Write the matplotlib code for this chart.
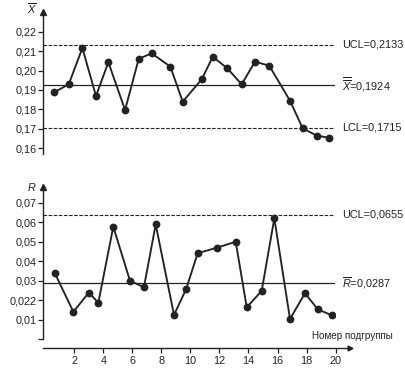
import matplotlib
matplotlib.use("Agg")
import matplotlib.pyplot as plt
import matplotlib.transforms as mtransforms

plt.rcParams['font.family'] = ['Liberation Sans', 'DejaVu Sans']
plt.rcParams['mathtext.fontset'] = 'custom'
plt.rcParams['mathtext.rm'] = 'Liberation Sans'
plt.rcParams['mathtext.it'] = 'Liberation Sans:italic'

# ---- data ----
subgroups_ticks = [2, 4, 6, 8, 10, 12, 14, 16, 18, 20]

xbar_pos = [0.61, 1.62, 2.56, 3.50, 4.35, 5.50, 6.44, 7.33, 8.62, 9.47,
            10.78, 11.54, 12.54, 13.53, 14.45, 15.43, 16.86, 17.73, 18.70, 19.57]
xbar_vals = [0.1888, 0.1929, 0.2116, 0.1869, 0.2043, 0.1797, 0.2060, 0.2089, 0.2020, 0.1840,
             0.1955, 0.2071, 0.2012, 0.1929, 0.2046, 0.2025, 0.1845, 0.1703, 0.1665, 0.1654]

r_pos = [0.65, 1.94, 3.00, 3.66, 4.69, 5.84, 6.80, 7.61, 8.87, 9.70,
         10.50, 11.85, 13.12, 13.88, 14.91, 15.78, 16.86, 17.89, 18.77, 19.73]
r_vals = [0.0341, 0.0141, 0.0239, 0.0188, 0.0577, 0.0300, 0.0267, 0.0589, 0.0125, 0.0256,
          0.0441, 0.0470, 0.0500, 0.0164, 0.0248, 0.0620, 0.0104, 0.0236, 0.0154, 0.0123]

x_ucl, x_center, x_lcl = 0.2133, 0.1926, 0.1705
r_ucl, r_center = 0.0638, 0.0287

x_labels = ['UCL=0,2133', r'$\overline{\overline{X}}$=0,1924', 'LCL=0,1715']
r_labels = ['UCL=0,0655', r'$\overline{R}$=0,0287']

x_yticks = [0.16, 0.17, 0.18, 0.19, 0.20, 0.21, 0.22]
x_yticklabels = ['0,16', '0,17', '0,18', '0,19', '0,20', '0,21', '0,22']
r_yticks = [0.0, 0.01, 0.02, 0.03, 0.04, 0.05, 0.06, 0.07]
r_yticklabels = ['', '0,01', '0,022', '0,03', '0,04', '0,05', '0,06', '0,07']

# ---- layout ----
W, H = 406, 375
fig = plt.figure(figsize=(W / 100, H / 100), dpi=100)
INK = '#222222'
FS = 7.8

def px_axes(left, top, right, bottom):
    return fig.add_axes([left / W, 1 - bottom / H, (right - left) / W, (bottom - top) / H])

k0, kscale = 45.2, 14.52
def k_of(px):
    return (px - k0) / kscale

ax1 = px_axes(43.3, 12, 335, 154)
ax2 = px_axes(43.3, 187, 335, 339.3)
ax3 = px_axes(43.3, 347.8, 350, 348.3)

for ax in (ax1, ax2):
    ax.set_xlim(k_of(43.3), k_of(335))
    for s in ('top', 'right', 'bottom'):
        ax.spines[s].set_visible(False)
    ax.spines['left'].set_linewidth(1.0)
    ax.spines['left'].set_color(INK)
    ax.set_xticks([])
    ax.tick_params(axis='y', direction='out', length=3.5, width=0.9, pad=1,
                   labelsize=FS, colors=INK)
    ax.patch.set_visible(False)
    ax.plot([0], [1], marker='^', ms=4, color=INK, transform=ax.transAxes,
            clip_on=False)

ax1.set_ylim(0.15706, 0.23014)
ax1.set_yticks(x_yticks)
ax1.set_yticklabels(x_yticklabels)
ax2.set_ylim(0.0, 0.07806)
ax2.set_yticks(r_yticks)
ax2.set_yticklabels(r_yticklabels)

line_kw = dict(color=INK, lw=1.35, marker='o', ms=4.6, mfc=INK, mec=INK, zorder=3)
ax1.plot(xbar_pos, xbar_vals, **line_kw)
ax2.plot(r_pos, r_vals, **line_kw)

dash = (0, (3.2, 1.4))
ax1.axhline(x_ucl, color=INK, lw=0.8, ls=dash)
ax1.axhline(x_center, color=INK, lw=0.9)
ax1.axhline(x_lcl, color=INK, lw=0.8, ls=dash)
ax2.axhline(r_ucl, color=INK, lw=0.8, ls=dash)
ax2.axhline(r_center, color=INK, lw=0.9)

tx = (341.7 - 43.3) / (335 - 43.3)
t1 = mtransforms.blended_transform_factory(ax1.transAxes, ax1.transData)
for val, lab in zip([x_ucl, x_center, x_lcl], x_labels):
    ax1.text(tx, val, lab, transform=t1, ha='left', va='center', fontsize=FS,
             color=INK, clip_on=False)
t2 = mtransforms.blended_transform_factory(ax2.transAxes, ax2.transData)
for val, lab in zip([r_ucl, r_center], r_labels):
    ax2.text(tx, val, lab, transform=t2, ha='left', va='center', fontsize=FS,
             color=INK, clip_on=False)

fig.text(31.7 / W, 1 - 8.5 / H, r'$\overline{X}$', fontsize=FS, color=INK,
         ha='center', va='center')
fig.text(31.7 / W, 1 - 186.5 / H, r'$R$', fontsize=FS, color=INK,
         ha='center', va='center')

# separate subgroup axis
ax3.set_xlim(k_of(43.3), k_of(350))
ax3.set_ylim(0, 1)
for s in ('top', 'right', 'left'):
    ax3.spines[s].set_visible(False)
ax3.spines['bottom'].set_linewidth(1.0)
ax3.spines['bottom'].set_color(INK)
ax3.set_yticks([])
ax3.set_xticks(subgroups_ticks)
ax3.set_xticklabels([str(t) for t in subgroups_ticks])
ax3.tick_params(axis='x', direction='out', length=3.6, width=0.9, pad=2,
                labelsize=FS, colors=INK)
ax3.patch.set_visible(False)
ax3.plot([1], [0], marker='>', ms=3.5, color=INK, transform=ax3.transAxes,
         clip_on=False)

fig.text(352 / W, 1 - 335.7 / H, 'Номер подгруппы', fontsize=7.1, color=INK,
         ha='center', va='center')

fig.savefig('out.png', dpi=100, facecolor='white')
